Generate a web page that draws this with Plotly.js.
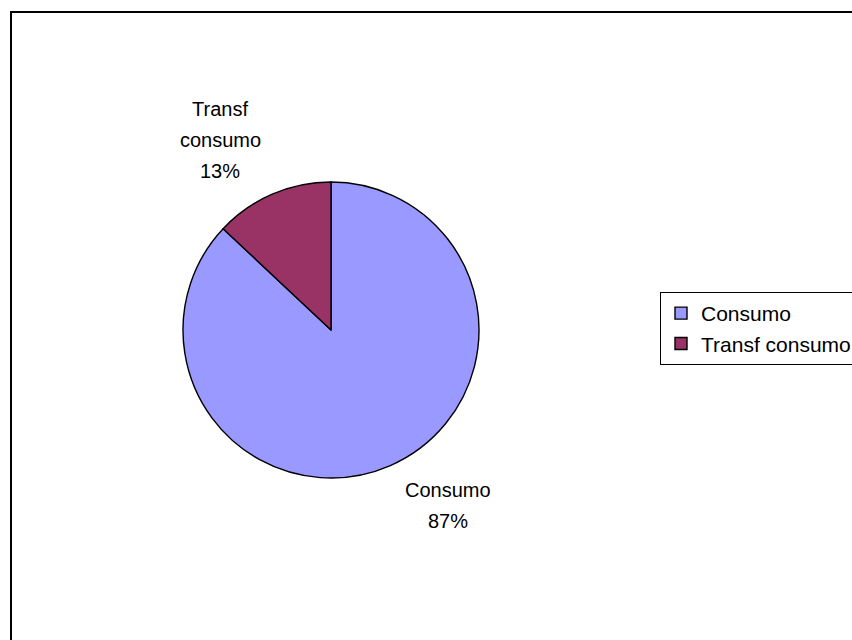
<!DOCTYPE html>
<html>
<head>
<meta charset="utf-8">
<script src="https://cdn.plot.ly/plotly-3.0.1.min.js"></script>
<style>
html,body{margin:0;padding:0;background:#fff;overflow:hidden;}
#wrap{position:relative;width:852px;height:640px;overflow:hidden;}
#frame{position:absolute;left:10px;top:11px;width:900px;height:700px;border-left:2px solid #000;border-top:2px solid #000;box-sizing:border-box;pointer-events:none;z-index:5;}
#chart{position:absolute;left:0;top:0;width:900px;height:640px;}
</style>
</head>
<body>
<div id="wrap">
<div id="chart"></div>
<div id="frame"></div>
</div>
<script>
const categories = ['Consumo', 'Transf consumo'];
const labelLines = [['Consumo'], ['Transf', 'consumo']];
const values = [87, 13];
const colors = ['#9999FF', '#993366'];

// drawing canvas is a little wider than the 852px view so the legend can run off the right edge
const W = 900, H = 640;
const cx = 331, cy = 330, r = 148;
const FONT = 'Liberation Sans, Arial, sans-serif';

const total = values.reduce((a, b) => a + b, 0);
const pct = values.map(v => Math.round(v / total * 100) + '%');

// label anchor (centre x, first-line y) and line pitch, in pixels
const labelPos = [{x: 448, y: 490}, {x: 220, y: 109}];
const pitch = 31;

const annotations = [];
labelLines.forEach((lines, i) => {
  const all = lines.concat([pct[i]]);
  all.forEach((t, j) => {
    annotations.push({
      xref: 'paper', yref: 'paper',
      x: labelPos[i].x / W, y: 1 - (labelPos[i].y + j * pitch) / H,
      xanchor: 'center', yanchor: 'middle',
      text: t, showarrow: false,
      font: {family: FONT, size: 20, color: '#000'}
    });
  });
});

const trace = {
  type: 'pie',
  labels: categories,
  values: values,
  textinfo: 'none',
  direction: 'clockwise',
  rotation: 0,
  sort: false,
  marker: {colors: colors, line: {color: '#000000', width: 1.4}},
  domain: {x: [(cx - r) / W, (cx + r) / W], y: [1 - (cy + r) / H, 1 - (cy - r) / H]},
  automargin: false,
  showlegend: true
};

const layout = {
  width: W, height: H,
  margin: {l: 0, r: 0, t: 0, b: 0},
  paper_bgcolor: '#ffffff',
  plot_bgcolor: '#ffffff',
  font: {family: FONT, size: 20, color: '#000'},
  showlegend: true,
  annotations: annotations,
  legend: {
    x: 660 / W, y: 1 - 292 / H, xanchor: 'left', yanchor: 'top',
    bordercolor: '#000', borderwidth: 1, bgcolor: '#fff',
    font: {family: FONT, size: 21, color: '#000'},
    traceorder: 'normal'
  }
};

Plotly.newPlot('chart', [trace], layout, {displayModeBar: false, staticPlot: true});
</script>
</body>
</html>
